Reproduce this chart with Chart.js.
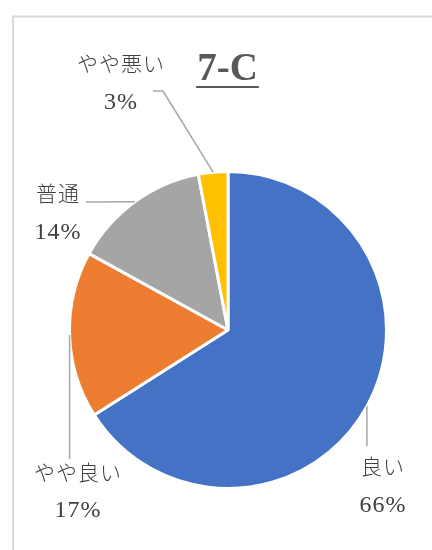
<!DOCTYPE html>
<html>
<head>
<meta charset="utf-8">
<script src="https://cdn.jsdelivr.net/npm/chart.js@4"></script>
<style>
  html, body { margin: 0; padding: 0; background: #fff; }
  canvas { display: block; }
</style>
</head>
<body>
<canvas id="grafico" width="432" height="550"></canvas>
<script>
// dados do grafico
const categorias = ['良い', 'やや良い', '普通', 'やや悪い']
const porcentagens = [66, 17, 14, 3]
const cores = ['#4472C4', '#ED7D31', '#A5A5A5', '#FFC000']
const titulo = '7-C'

// posicao dos rotulos (centro do texto) e pontos da linha guia
const rotulos = [
    { x: 383, y1: 466, y2: 506, guia: [[null, 446]] },
    { x: 78, y1: 472, y2: 511, guia: [[null, 459]] },
    { x: 58, y1: 193, y2: 233, guia: [[86, 202]] },
    { x: 121, y1: 63, y2: 103, guia: [[163, 91], [153, 91]] }
]

/* moldura, titulo e rotulos */
const pluginRotulos = {
    id: 'rotulos',
    beforeDraw(chart) {
        const ctx = chart.ctx
        ctx.save()
        ctx.fillStyle = '#fff'
        ctx.fillRect(0, 0, chart.width, chart.height)
        ctx.strokeStyle = '#d9d9d9'
        ctx.lineWidth = 2
        ctx.strokeRect(13, 16.5, chart.width + 20, chart.height + 20)
        ctx.restore()
    },
    afterDraw(chart) {
        const ctx = chart.ctx
        const arcos = chart.getDatasetMeta(0).data
        ctx.save()

        // titulo sublinhado
        ctx.font = 'bold 39px "Liberation Serif"'
        ctx.fillStyle = '#595959'
        ctx.textAlign = 'center'
        ctx.textBaseline = 'alphabetic'
        ctx.fillText(titulo, 227.5, 80)
        const larg = ctx.measureText(titulo).width
        ctx.fillRect(227.5 - larg / 2 - 1, 86, larg + 2, 2)

        arcos.forEach((arco, i) => {
            const r = rotulos[i]
            const meio = (arco.startAngle + arco.endAngle) / 2
            const px = arco.x + Math.cos(meio) * arco.outerRadius
            const py = arco.y + Math.sin(meio) * arco.outerRadius

            // linha guia
            ctx.strokeStyle = '#a6a6a6'
            ctx.lineWidth = 1.5
            ctx.beginPath()
            ctx.moveTo(px, py)
            r.guia.forEach(p => ctx.lineTo(p[0] === null ? px : p[0], p[1]))
            ctx.stroke()

            // texto
            ctx.fillStyle = '#404040'
            ctx.textAlign = 'center'
            ctx.textBaseline = 'middle'
            ctx.letterSpacing = '1px'
            ctx.font = '300 21px "Noto Sans CJK JP"'
            ctx.fillText(categorias[i], r.x, r.y1)
            ctx.font = '24px "Liberation Serif"'
            ctx.fillText(porcentagens[i] + '%', r.x, r.y2)
            ctx.letterSpacing = '0px'
        })
        ctx.restore()
    }
}

const grafico = document.querySelector('#grafico')
const graficoPizza = new Chart(grafico, {
    type: 'pie',
    data: {
        labels: categorias,
        datasets: [{
            data: porcentagens,
            backgroundColor: cores,
            borderColor: '#ffffff',
            borderWidth: 3
        }]
    },
    options: {
        responsive: false,
        animation: false,
        layout: {
            padding: { left: 68, right: 44, top: 170, bottom: 60 }
        },
        plugins: {
            legend: { display: false },
            tooltip: { enabled: false }
        }
    },
    plugins: [pluginRotulos]
})
</script>
</body>
</html>
